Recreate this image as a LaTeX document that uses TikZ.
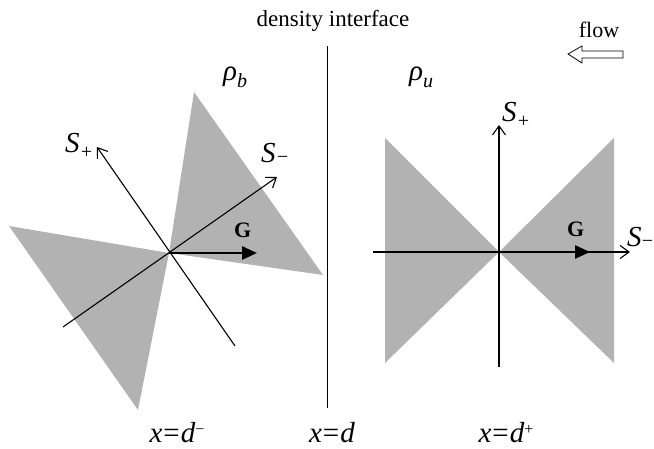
\documentclass[tikz,border=0pt]{standalone}
\usepackage{fontspec}
\setmainfont{Liberation Serif}
\usetikzlibrary{arrows.meta}
\definecolor{conegray}{RGB}{178,178,178}
\newcommand{\fs}[1]{\fontsize{#1}{#1}\selectfont}
\newcommand{\mysub}[2]{\raisebox{-#1pt}{\fs{20}#2}}
\begin{document}
\begin{tikzpicture}[x=1pt,y=-1pt,
  cone/.style={fill=conegray,draw=none},
  axis/.style={line width=1.1pt,-{Straight Barb[length=9pt,width=13pt,line width=1.1pt]}},
  gvec/.style={line width=2.8pt,-{Triangle[length=15pt,width=13pt]}},
  lab/.style={inner sep=0pt,anchor=base west,font=\fs{29}\itshape},
  txt/.style={inner sep=0pt,anchor=base,font=\fs{23}}]
\useasboundingbox (0,0) rectangle (654,449);
% ---------- left panel ----------
\coordinate (cl) at (169,253);
\coordinate (ta) at (194,92);
\coordinate (tb) at (323,275);
\coordinate (tc) at (9,226);
\coordinate (td) at (138,410);
\coordinate (spA) at (235,346);
\coordinate (spB) at (97,147);
\coordinate (smA) at (63,327);
\coordinate (smB) at (277,177);
\coordinate (gl) at (257,253);
\fill[cone] (cl) -- (ta) -- (tb) -- cycle;
\fill[cone] (cl) -- (tc) -- (td) -- cycle;
\draw[axis] (spA) -- (spB);
\draw[axis] (smA) -- (smB);
\draw[gvec] (cl) -- (gl);
\node[lab] (lsp) at (65,153) {S\mysub{6}{+}};
\node[lab] (lsm) at (261,163) {S\mysub{1}{−}};
\node[lab,font=\fs{22}\bfseries] (lg) at (234,238) {G};
\node[lab] (rb) at (223,81) {ρ\mysub{7}{b}};
% ---------- interface ----------
\coordinate (ia) at (327,46);
\coordinate (ib) at (327,408);
\draw[line width=1pt] (ia) -- (ib);
\node[txt] (di) at (333,27) {density interface};
\node[txt,font=\fs{22}] (fl) at (599,38) {flow};
\draw[line width=0.8pt,fill=white]
  (568,54) -- (582,46) -- (582,51) -- (623,51) -- (623,58) -- (582,58) -- (582,63) -- cycle;
% ---------- right panel ----------
\coordinate (cr) at (499,252);
\coordinate (ua) at (385,138);
\coordinate (ub) at (385,363);
\coordinate (uc) at (614,138);
\coordinate (ud) at (614,363);
\coordinate (hA) at (373,252);
\coordinate (hB) at (630,252);
\coordinate (vA) at (499,367);
\coordinate (vB) at (499,125);
\coordinate (gr) at (590,252);
\fill[cone] (cr) -- (ua) -- (ub) -- cycle;
\fill[cone] (cr) -- (uc) -- (ud) -- cycle;
\draw[axis] (hA) -- (hB);
\draw[axis] (vA) -- (vB);
\draw[gvec] (cr) -- (gr);
\node[lab] (rsp) at (502,122) {S\mysub{6}{+}};
\node[lab] (rsm) at (627,247) {S\kern-1pt\mysub{1}{−}};
\node[lab,font=\fs{22}\bfseries] (rg) at (567,237) {G};
\node[lab] (ru) at (409,81) {ρ\mysub{7}{u}};
% ---------- bottom labels ----------
\node[txt,font=\fs{29}] (x1) at (177,442) {\textit{x}\kern1pt=\kern1pt\textit{d}\raisebox{8pt}{\fs{16}−}};
\node[txt,font=\fs{29}] (x2) at (332,442) {\textit{x}\kern1pt=\kern1pt\textit{d}};
\node[txt,font=\fs{29}] (x3) at (506,442) {\textit{x}\kern1pt=\kern1pt\textit{d}\raisebox{8pt}{\fs{16}+}};
\end{tikzpicture}
\end{document}
